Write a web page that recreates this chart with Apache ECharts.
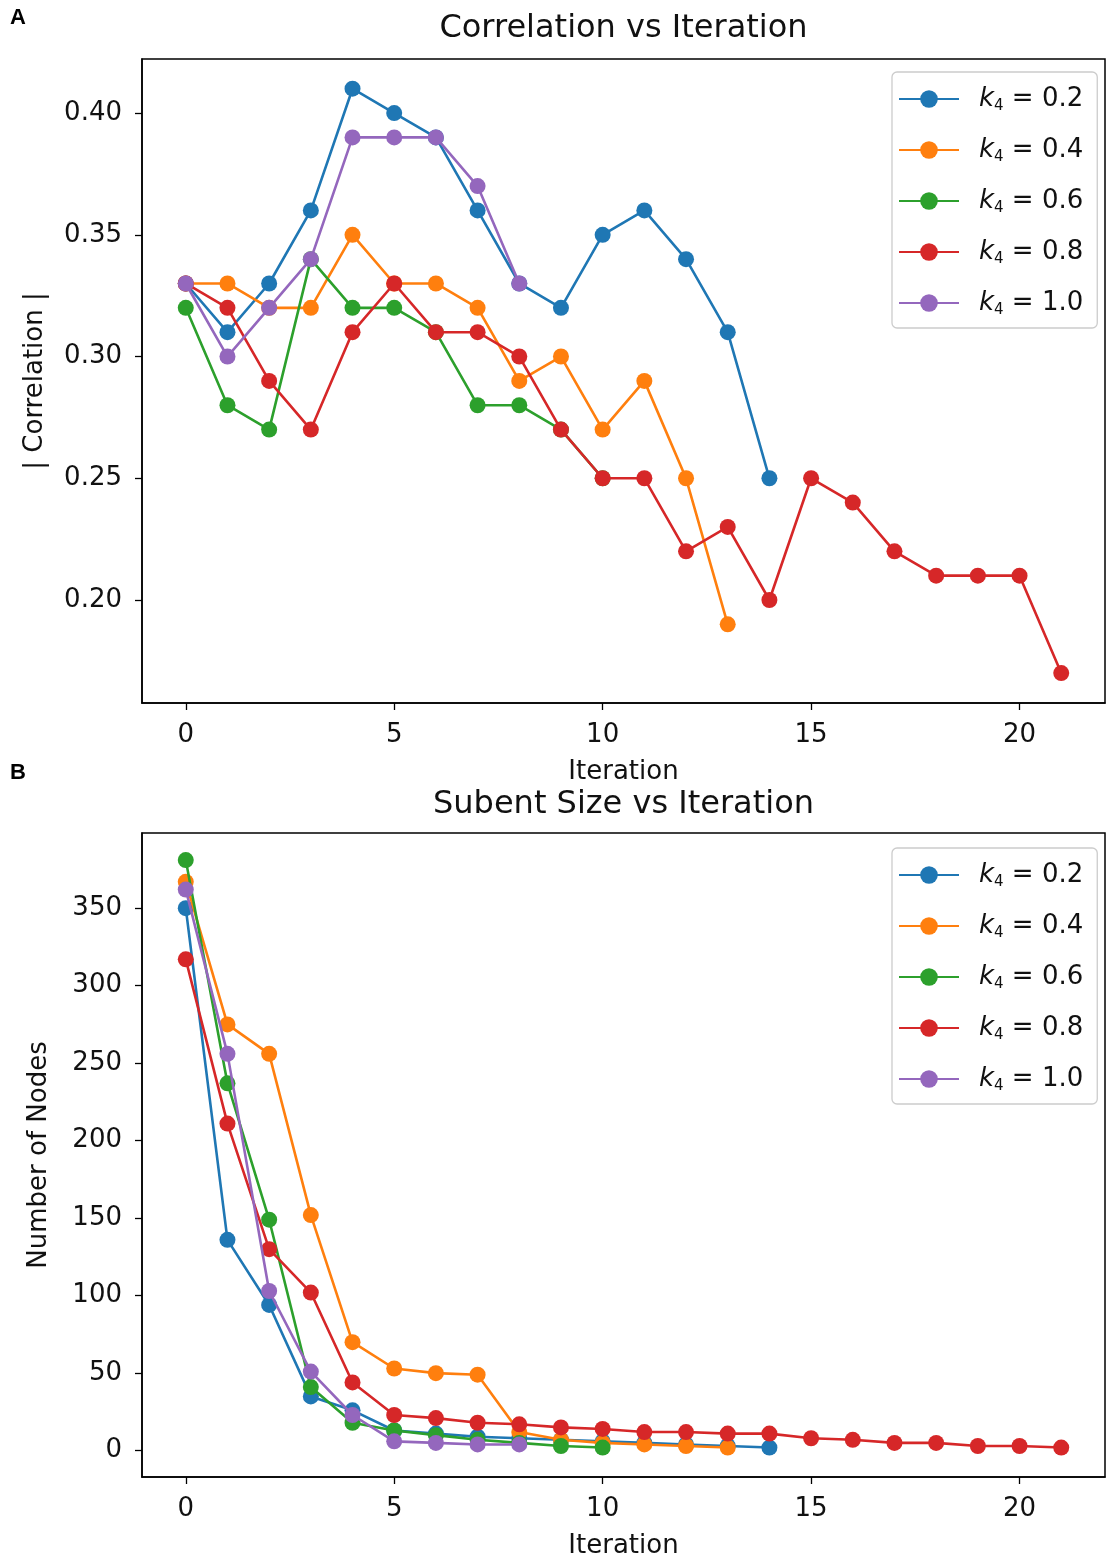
<!DOCTYPE html>
<html>
<head>
<meta charset="utf-8">
<script src="https://cdn.jsdelivr.net/npm/echarts@6/dist/echarts.min.js"></script>
<style>
html,body{margin:0;padding:0;background:#fff;}
#chart{width:1113px;height:1564px;}
</style>
</head>
<body>
<div id="chart"></div>
<script>
// ---- data ----
const seriesNames = ['k02', 'k04', 'k06', 'k08', 'k10'];
const seriesLabels = ['0.2', '0.4', '0.6', '0.8', '1.0'];
const xTicks = [0, 5, 10, 15, 20];
const corrTicks = [0.20, 0.25, 0.30, 0.35, 0.40];
const nodeTicks = [0, 50, 100, 150, 200, 250, 300, 350];

const corr_k02 = [0.33,0.31,0.33,0.36,0.41,0.40,0.39,0.36,0.33,0.32,0.35,0.36,0.34,0.31,0.25];
const corr_k04 = [0.33,0.33,0.32,0.32,0.35,0.33,0.33,0.32,0.29,0.30,0.27,0.29,0.25,0.19];
const corr_k06 = [0.32,0.28,0.27,0.34,0.32,0.32,0.31,0.28,0.28,0.27,0.25];
const corr_k08 = [0.33,0.32,0.29,0.27,0.31,0.33,0.31,0.31,0.30,0.27,0.25,0.25,0.22,0.23,0.20,0.25,0.24,0.22,0.21,0.21,0.21,0.17];
const corr_k10 = [0.33,0.30,0.32,0.34,0.39,0.39,0.39,0.37,0.33];

const nodes_k02 = [350,136,94,35,26,13,11,9,8,7,6,5,4,3,2];
const nodes_k04 = [367,275,256,152,70,53,50,49,12,7,5,4,3,2];
const nodes_k06 = [381,237,149,41,18,13,10,7,5,3,2];
const nodes_k08 = [317,211,130,102,44,23,21,18,17,15,14,12,12,11,11,8,7,5,5,3,3,2];
const nodes_k10 = [362,256,103,51,23,6,5,4,4];

const colors = ['#1f77b4', '#ff7f0e', '#2ca02c', '#d62728', '#9467bd'];

// ---- build ----
const FONT = 'DejaVu Sans';
const corrData = [corr_k02, corr_k04, corr_k06, corr_k08, corr_k10];
const nodeData = [nodes_k02, nodes_k04, nodes_k06, nodes_k08, nodes_k10];

function pairs(arr) { return arr.map((v, i) => [i, v]); }

const series = [];
[corrData, nodeData].forEach((set, gi) => {
  set.forEach((arr, si) => {
    series.push({
      type: 'line',
      name: seriesNames[si],
      xAxisIndex: gi, yAxisIndex: gi,
      data: pairs(arr),
      symbol: 'circle',
      symbolSize: 16,
      color: colors[si],
      lineStyle: { width: 2.6, color: colors[si] },
      itemStyle: { color: colors[si] },
      emphasis: { disabled: true },
      z: 2 + si
    });
  });
});

const plotLeft = 142, plotWidth = 963, plotHeight = 644;
const tops = [59, 833];

function xAxisCfg(gi) {
  return {
    gridIndex: gi, type: 'value', min: -1.05, max: 22.05,
    splitLine: { show: false },
    axisLine: { show: true, onZero: false, lineStyle: { color: '#000', width: 1.5 } },
    axisTick: { show: true, length: 7, customValues: xTicks, lineStyle: { color: '#000', width: 1.3 } },
    axisLabel: { customValues: xTicks, fontSize: 26, fontFamily: FONT, color: '#111', margin: 19 },
    name: 'Iteration', nameLocation: 'middle', nameGap: 56,
    nameTextStyle: { fontSize: 26, fontFamily: FONT, color: '#111' }
  };
}
function yAxisCfg(gi, min, max, ticks, fmt, name, gap) {
  return {
    gridIndex: gi, type: 'value', min: min, max: max,
    splitLine: { show: false },
    axisLine: { show: true, onZero: false, lineStyle: { color: '#000', width: 1.5 } },
    axisTick: { show: true, length: 7, customValues: ticks, lineStyle: { color: '#000', width: 1.3 } },
    axisLabel: { customValues: ticks, formatter: fmt, fontSize: 26, fontFamily: FONT, color: '#111', margin: 20 },
    name: name, nameLocation: 'middle', nameGap: gap,
    nameTextStyle: { fontSize: 26, fontFamily: FONT, color: '#111' }
  };
}

function legendCfg(top) {
  const rich = {
    sp: { width: 15 },
    k: { fontSize: 26, fontStyle: 'italic', fontFamily: FONT, color: '#111', lineHeight: 30 },
    s: { fontSize: 15, fontFamily: FONT, color: '#111', verticalAlign: 'bottom', lineHeight: 30, padding: [8, 0, 0, 0] },
    t: { fontSize: 26, fontFamily: FONT, color: '#111', lineHeight: 30 }
  };
  return {
    orient: 'vertical',
    left: 892, top: top,
    padding: [12, 14, 10, 6],
    itemGap: 21,
    itemWidth: 60, itemHeight: 22,
    backgroundColor: 'rgba(255,255,255,0.85)',
    borderColor: '#cccccc', borderWidth: 1.3, borderRadius: 5,
    data: seriesNames,
    selectedMode: false,
    formatter: function (n) {
      const idx = seriesNames.indexOf(n);
      return '{sp| }{k|k}{s|4}{t| = ' + seriesLabels[idx] + '}';
    },
    textStyle: { rich: rich, fontSize: 26, lineHeight: 30 }
  };
}

const option = {
  animation: false,
  backgroundColor: '#fff',
  grid: tops.map(t => ({ left: plotLeft, top: t, width: plotWidth, height: plotHeight, show: true, borderColor: '#000', borderWidth: 1.5, backgroundColor: 'transparent', containLabel: false })),
  xAxis: [xAxisCfg(0), xAxisCfg(1)],
  yAxis: [
    yAxisCfg(0, 0.1577, 0.4222, corrTicks, v => v.toFixed(2), '| Correlation |', 94),
    yAxisCfg(1, -17, 398.5, nodeTicks, v => String(Math.round(v)), 'Number of Nodes', 90)
  ],
  legend: [legendCfg(72), legendCfg(848)],
  graphic: [
    { type: 'text', x: 623.5, y: 29, style: { text: 'Correlation vs Iteration', fontSize: 32, fontFamily: FONT, fill: '#111', textAlign: 'center', textVerticalAlign: 'middle' } },
    { type: 'text', x: 623.5, y: 805, style: { text: 'Subent Size vs Iteration', fontSize: 32, fontFamily: FONT, fill: '#111', textAlign: 'center', textVerticalAlign: 'middle' } },
    { type: 'text', x: 18, y: 18, style: { text: 'A', fontSize: 22, fontWeight: 'bold', fontFamily: 'Liberation Sans', fill: '#000', textAlign: 'center', textVerticalAlign: 'middle' } },
    { type: 'text', x: 18, y: 773, style: { text: 'B', fontSize: 22, fontWeight: 'bold', fontFamily: 'Liberation Sans', fill: '#000', textAlign: 'center', textVerticalAlign: 'middle' } }
  ],
  series: series
};

const chart = echarts.init(document.getElementById('chart'), null, { renderer: 'canvas' });
chart.setOption(option);
</script>
</body>
</html>
